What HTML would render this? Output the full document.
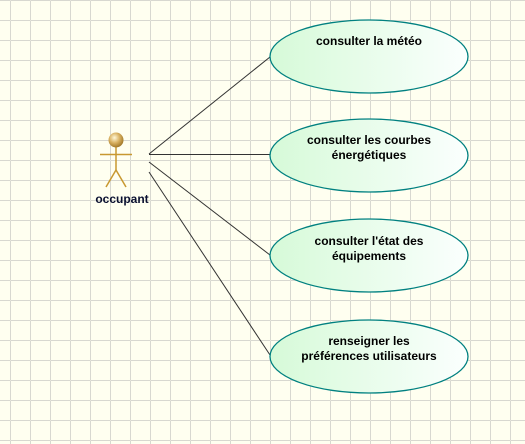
<!DOCTYPE html>
<html><head><meta charset="utf-8"><style>
html,body{margin:0;padding:0;width:525px;height:444px;overflow:hidden;background:#fffff0}
</style></head><body>
<svg width="525" height="444" xmlns="http://www.w3.org/2000/svg" style="display:block">
<defs>
<pattern id="g" x="10" y="0" width="20" height="20" patternUnits="userSpaceOnUse">
<path d="M0 0H20M0 0V20" stroke="#d8d8d0" stroke-width="1" fill="none" transform="translate(0.5,0.5)"/>
</pattern>
<linearGradient id="lg" x1="0" x2="1" y1="0" y2="0">
<stop offset="0" stop-color="#d6fad8"/><stop offset="1" stop-color="#fbfffe"/>
</linearGradient>
<radialGradient id="hg" cx="0.4" cy="0.35" r="0.7">
<stop offset="0" stop-color="#fff8d8"/><stop offset="0.5" stop-color="#d8b060"/><stop offset="1" stop-color="#9a7020"/>
</radialGradient>
</defs>
<rect width="525" height="444" fill="#fffff0"/>
<rect width="525" height="444" fill="url(#g)"/>
<g stroke="#333" stroke-width="1">
<line x1="149" y1="154" x2="270" y2="57"/>
<line x1="149" y1="154.5" x2="270" y2="154.5"/>
<line x1="149" y1="162" x2="270" y2="255"/>
<line x1="149" y1="172" x2="270" y2="355"/>
</g>
<g fill="url(#lg)" stroke="#008080" stroke-width="1.3">
<ellipse cx="369" cy="56.5" rx="99" ry="36.5"/>
<ellipse cx="369" cy="155.5" rx="99" ry="36.5"/>
<ellipse cx="369" cy="255.5" rx="99" ry="36.5"/>
<ellipse cx="369" cy="356.5" rx="99" ry="36.5"/>
</g>
<g stroke="#c89830" stroke-width="1.5" fill="none">
<line x1="116" y1="147" x2="116" y2="170"/>
<line x1="100" y1="154.5" x2="132" y2="154.5"/>
<line x1="116" y1="170" x2="106" y2="187"/>
<line x1="116" y1="170" x2="126" y2="187"/>
</g>
<circle cx="116" cy="140" r="7.5" fill="url(#hg)"/>
<g font-family="Liberation Sans, sans-serif" font-weight="bold" font-size="12" fill="#000" text-anchor="middle">
<text x="122" y="203" fill="#0a1030">occupant</text>
<text x="369" y="45">consulter la météo</text>
<text x="369" y="144">consulter les courbes</text>
<text x="369" y="159">énergétiques</text>
<text x="369" y="245">consulter l'état des</text>
<text x="369" y="260">équipements</text>
<text x="369" y="345">renseigner les</text>
<text x="369" y="360">préférences utilisateurs</text>
</g>
</svg>
</body></html>
